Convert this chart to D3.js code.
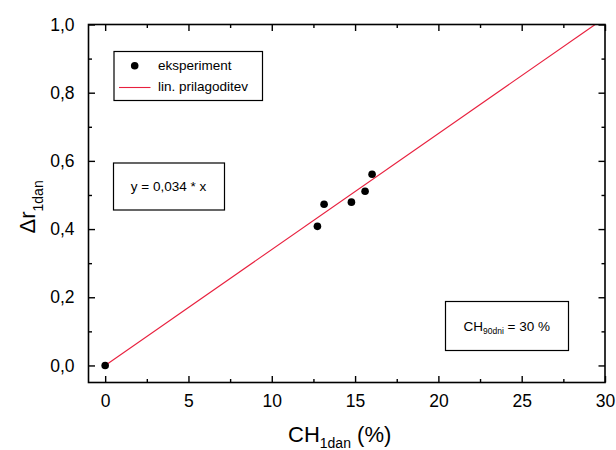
<!DOCTYPE html>
<html>
<head>
<meta charset="utf-8">
<script src="https://cdn.jsdelivr.net/npm/d3@7"></script>
<style>
  html, body { margin: 0; padding: 0; background: #fff; }
  svg { display: block; font-family: "Liberation Sans", Arial, sans-serif; }
</style>
</head>
<body>
<svg id="chart" width="616" height="450"></svg>
<script>
// Measured data: CH after 1 day (%) vs. Δr after 1 day
const chValues = [0, 12.74, 13.14, 14.78, 15.6, 16.02];
const drValues = [0, 0.408, 0.473, 0.479, 0.511, 0.561];

// Linear fit through the origin
const fitSlope = 0.034;

const xTickValues = [0, 5, 10, 15, 20, 25, 30];
const yTickValues = [0, 0.2, 0.4, 0.6, 0.8, 1.0];
const yTickLabels = ["0,0", "0,2", "0,4", "0,6", "0,8", "1,0"];

const legendLabels = ["eksperiment", "lin. prilagoditev"];
const fitLabel = "y = 0,034 * x";

const red = "#e8203e";

const svg = d3.select("#chart");
const L = 88.5, R = 605, T = 24.5, B = 382.5;

const x = d3.scaleLinear().domain([-1, 30]).range([L, R]);
const y = d3.scaleLinear().domain([-0.05, 1.0]).range([B, T]);

const plot = svg.append("g");

// clip region for the fit line
svg.append("defs").append("clipPath").attr("id", "clip")
  .append("rect").attr("x", L).attr("y", T).attr("width", R - L).attr("height", B - T);

// fit line
const fitLine = d3.line().x(d => x(d)).y(d => y(fitSlope * d));
plot.append("path")
  .datum([0, 1 / fitSlope])
  .attr("d", fitLine)
  .attr("clip-path", "url(#clip)")
  .attr("fill", "none")
  .attr("stroke", red)
  .attr("stroke-width", 1.1);

// measured points
plot.selectAll("circle.pt")
  .data(chValues.map((c, i) => [c, drValues[i]]))
  .join("circle")
  .attr("class", "pt")
  .attr("cx", d => x(d[0]))
  .attr("cy", d => y(d[1]))
  .attr("r", 3.8)
  .attr("fill", "#000");

// axes with inward ticks on all four sides
const majorLen = 6.5, minorLen = 3.5;
const xMinor = d3.range(0, 30.01, 2.5).filter(v => v % 5 !== 0);
const yMinor = d3.range(0.1, 1.0, 0.2);

function styleAxis(g) {
  g.select(".domain").remove();
  g.selectAll("line").attr("stroke", "#000").attr("stroke-width", 1.4);
}

// bottom
const gB = svg.append("g").attr("transform", `translate(0,${B})`)
  .call(d3.axisBottom(x).tickValues(xTickValues).tickSize(-majorLen).tickPadding(12).tickFormat(d3.format("d")));
styleAxis(gB);
gB.selectAll("text").attr("font-size", 17.5).attr("fill", "#000")
  .attr("font-family", "Liberation Sans, Arial, sans-serif");
svg.append("g").attr("transform", `translate(0,${B})`)
  .call(d3.axisBottom(x).tickValues(xMinor).tickSize(-minorLen).tickFormat(""))
  .call(styleAxis);

// top
svg.append("g").attr("transform", `translate(0,${T})`)
  .call(d3.axisTop(x).tickValues(xTickValues).tickSize(-majorLen).tickFormat(""))
  .call(styleAxis);
svg.append("g").attr("transform", `translate(0,${T})`)
  .call(d3.axisTop(x).tickValues(xMinor).tickSize(-minorLen).tickFormat(""))
  .call(styleAxis);

// left
const gL = svg.append("g").attr("transform", `translate(${L},0)`)
  .call(d3.axisLeft(y).tickValues(yTickValues).tickSize(-majorLen).tickPadding(14)
    .tickFormat((d, i) => yTickLabels[i]));
styleAxis(gL);
gL.selectAll("text").attr("font-size", 17.5).attr("fill", "#000")
  .attr("font-family", "Liberation Sans, Arial, sans-serif");
svg.append("g").attr("transform", `translate(${L},0)`)
  .call(d3.axisLeft(y).tickValues(yMinor).tickSize(-minorLen).tickFormat(""))
  .call(styleAxis);

// right
svg.append("g").attr("transform", `translate(${R},0)`)
  .call(d3.axisRight(y).tickValues(yTickValues).tickSize(-majorLen).tickFormat(""))
  .call(styleAxis);
svg.append("g").attr("transform", `translate(${R},0)`)
  .call(d3.axisRight(y).tickValues(yMinor).tickSize(-minorLen).tickFormat(""))
  .call(styleAxis);

// frame
svg.append("rect")
  .attr("x", L).attr("y", T).attr("width", R - L).attr("height", B - T)
  .attr("fill", "none").attr("stroke", "#000").attr("stroke-width", 1.6);

// axis titles
const xt = svg.append("text").attr("x", 288).attr("y", 442)
  .attr("font-size", 22).attr("fill", "#000");
xt.append("tspan").text("CH");
xt.append("tspan").attr("font-size", 14).attr("dy", 6).text("1dan");
xt.append("tspan").attr("dy", -6).text(" (%)");

const yt = svg.append("text")
  .attr("transform", "translate(35,233.5) rotate(-90)")
  .attr("font-size", 22).attr("fill", "#000");
yt.append("tspan").text("Δr");
yt.append("tspan").attr("font-size", 14).attr("dy", 8).text("1dan");

// legend
const lg = svg.append("g");
lg.append("rect").attr("x", 114).attr("y", 51.5).attr("width", 148.5).attr("height", 49)
  .attr("fill", "#fff").attr("stroke", "#000").attr("stroke-width", 1.2);
lg.append("circle").attr("cx", 134.7).attr("cy", 65.7).attr("r", 3.8).attr("fill", "#000");
lg.append("line").attr("x1", 119).attr("x2", 150.5).attr("y1", 87.5).attr("y2", 87.5)
  .attr("stroke", red).attr("stroke-width", 1.1);
lg.selectAll("text.lg")
  .data(legendLabels)
  .join("text")
  .attr("class", "lg")
  .attr("x", 158)
  .attr("y", (d, i) => 69.5 + i * 21.5)
  .attr("font-size", 13.5)
  .attr("fill", "#000")
  .text(d => d);

// fit equation box
svg.append("rect").attr("x", 113.5).attr("y", 163).attr("width", 111).attr("height", 47)
  .attr("fill", "#fff").attr("stroke", "#000").attr("stroke-width", 1.2);
svg.append("text").attr("x", 168.5).attr("y", 190.5).attr("text-anchor", "middle")
  .attr("font-size", 13.5).attr("fill", "#000").text(fitLabel);

// 90-day value box
svg.append("rect").attr("x", 445.5).attr("y", 301.5).attr("width", 123).attr("height", 49)
  .attr("fill", "#fff").attr("stroke", "#000").attr("stroke-width", 1.2);
const ct = svg.append("text").attr("x", 463.5).attr("y", 330.5)
  .attr("font-size", 13.5).attr("fill", "#000");
ct.append("tspan").text("CH");
ct.append("tspan").attr("font-size", 8.5).attr("dy", 3).text("90dni");
ct.append("tspan").attr("dy", -3).text(" = 30 %");
</script>
</body>
</html>
